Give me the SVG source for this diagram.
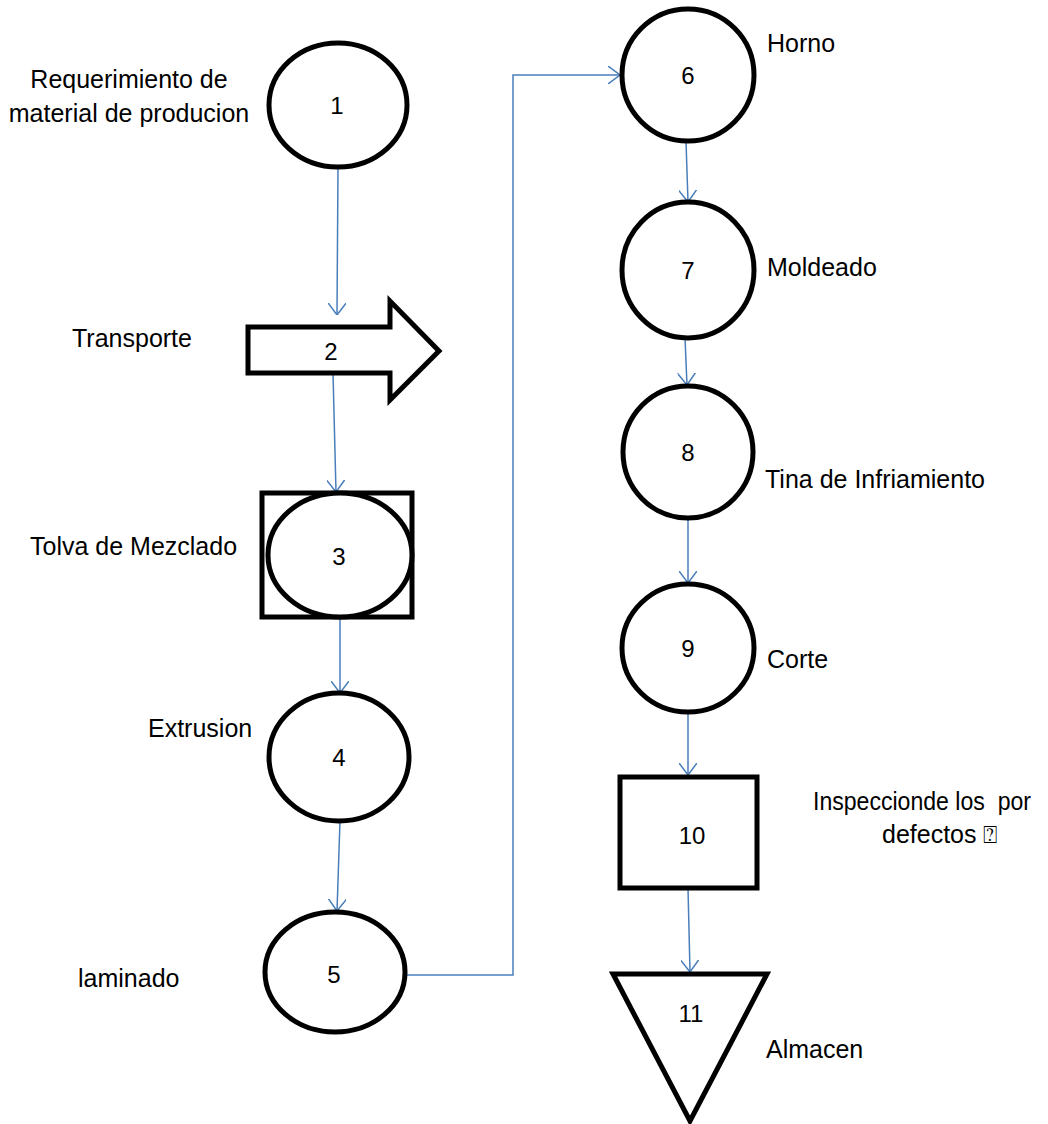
<svg xmlns="http://www.w3.org/2000/svg" width="1048" height="1124" viewBox="0 0 1048 1124">
  <style>
    .shape { fill: #ffffff; stroke: #000000; stroke-width: 5; stroke-linejoin: miter; }
    .num { font-family: "Liberation Sans", Arial, sans-serif; font-size: 24px; fill: #000000; text-anchor: middle; }
    .lbl { font-family: "Liberation Sans", Arial, sans-serif; font-size: 25px; fill: #000000; white-space: pre; }
    .conn { fill: none; stroke: #4a7ebb; stroke-width: 1.5; marker-end: url(#open); }
  </style>
  <defs>
    <marker id="open" viewBox="0 0 12 18" refX="12" refY="9" markerWidth="12" markerHeight="18" markerUnits="userSpaceOnUse" orient="auto">
      <path d="M0,0 L12,9 L0,18" fill="none" stroke="#4a7ebb" stroke-width="1.5"/>
    </marker>
  </defs>
  <rect width="1048" height="1124" fill="#ffffff"/>

  <!-- connectors -->
  <g id="connectors">
    <path class="conn" d="M338,167 L337,315"/>
    <path class="conn" d="M333,373 L336,492"/>
    <path class="conn" d="M340,617 L340,693"/>
    <path class="conn" d="M340,821 L337,911"/>
    <path class="conn" d="M405,975 L513,975 L513,75 L620,75"/>
    <path class="conn" d="M686,141 L688,202"/>
    <path class="conn" d="M685,338 L687,385"/>
    <path class="conn" d="M688,518 L688,583"/>
    <path class="conn" d="M688,712 L688,775"/>
    <path class="conn" d="M688,888 L690,972"/>
  </g>

  <!-- 1: operation -->
  <g id="node1">
    <ellipse class="shape" cx="338" cy="105" rx="69" ry="62"/>
    <text class="num" x="337" y="114">1</text>
    <text class="lbl" x="129" y="88" text-anchor="middle">Requerimiento de</text>
    <text class="lbl" x="129" y="122" text-anchor="middle">material de producion</text>
  </g>

  <!-- 2: transport -->
  <g id="node2">
    <path class="shape" d="M248,327 L390,327 L390,301 L439,351 L390,400 L390,373 L248,373 Z"/>
    <text class="num" x="331" y="360">2</text>
    <text class="lbl" x="72" y="347">Transporte</text>
  </g>

  <!-- 3: combined operation / inspection -->
  <g id="node3">
    <rect class="shape" x="262" y="493" width="150" height="124"/>
    <ellipse class="shape" cx="340" cy="555" rx="72" ry="62"/>
    <text class="num" x="339" y="565">3</text>
    <text class="lbl" x="30" y="555">Tolva de Mezclado</text>
  </g>

  <!-- 4: operation -->
  <g id="node4">
    <ellipse class="shape" cx="339" cy="757" rx="70" ry="64"/>
    <text class="num" x="339" y="766">4</text>
    <text class="lbl" x="148" y="737">Extrusion</text>
  </g>

  <!-- 5: operation -->
  <g id="node5">
    <ellipse class="shape" cx="335" cy="972" rx="70" ry="60"/>
    <text class="num" x="334" y="983">5</text>
    <text class="lbl" x="78" y="987">laminado</text>
  </g>

  <!-- 6: operation -->
  <g id="node6">
    <ellipse class="shape" cx="688" cy="75" rx="66" ry="66"/>
    <text class="num" x="688" y="84">6</text>
    <text class="lbl" x="767" y="52">Horno</text>
  </g>

  <!-- 7: operation -->
  <g id="node7">
    <ellipse class="shape" cx="688" cy="270" rx="66" ry="68"/>
    <text class="num" x="688" y="279">7</text>
    <text class="lbl" x="767" y="276">Moldeado</text>
  </g>

  <!-- 8: operation -->
  <g id="node8">
    <ellipse class="shape" cx="688" cy="452" rx="65" ry="66"/>
    <text class="num" x="688" y="461">8</text>
    <text class="lbl" x="765" y="488">Tina de Infriamiento</text>
  </g>

  <!-- 9: operation -->
  <g id="node9">
    <ellipse class="shape" cx="688" cy="648" rx="66" ry="64"/>
    <text class="num" x="688" y="657">9</text>
    <text class="lbl" x="767" y="668">Corte</text>
  </g>

  <!-- 10: inspection -->
  <g id="node10">
    <rect class="shape" x="620" y="777" width="137" height="111"/>
    <text class="num" x="692" y="844">10</text>
    <text class="lbl" x="813" y="810" textLength="218" lengthAdjust="spacingAndGlyphs">Inspeccionde los&#160; por</text>
    <text class="lbl" x="882" y="843">defectos <tspan font-family="DejaVu Sans, sans-serif" font-size="24px">⍰</tspan></text>
  </g>

  <!-- 11: storage -->
  <g id="node11">
    <path class="shape" d="M613,974 L767,974 L690,1121 Z"/>
    <text class="num" x="691" y="1022">11</text>
    <text class="lbl" x="766" y="1058">Almacen</text>
  </g>
</svg>
